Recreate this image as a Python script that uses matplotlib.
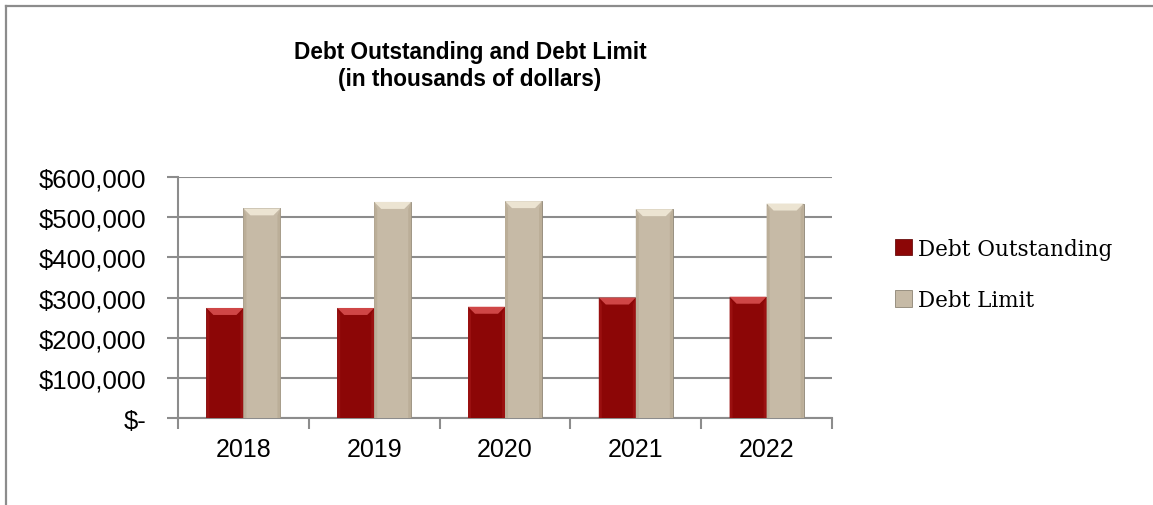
import numpy as np
import matplotlib
matplotlib.use("Agg")
import matplotlib.pyplot as plt
from matplotlib.patches import Polygon
from matplotlib.lines import Line2D
from matplotlib.transforms import IdentityTransform
from matplotlib.ticker import FuncFormatter, FixedLocator

years = ["2018", "2019", "2020", "2021", "2022"]
debt_outstanding = [274000, 274000, 277000, 300000, 302000]
debt_limit = [522000, 538000, 540000, 520000, 534000]
series_names = ["Debt Outstanding", "Debt Limit"]

red = "#8c0606"
red_top = "#cf4646"
red_side = "#9a1010"
beige = "#c6baa6"
beige_top = "#ece4d2"
beige_side = "#bbae98"
grid_gray = "#8c8c8c"

plt.rcParams['font.family'] = ['Liberation Sans', 'DejaVu Sans']

fig = plt.figure(figsize=(11.53, 5.06), dpi=100)
ax = fig.add_axes([0.1544, 0.1719, 0.5672, 0.4763])

x = np.arange(len(years))
w = 0.283
b1 = ax.bar(x - w/2, debt_outstanding, w, color=red, edgecolor="#6a1010", linewidth=0.6, zorder=3)
b2 = ax.bar(x + w/2, debt_limit, w, color=beige, edgecolor="#8d8474", linewidth=0.6, zorder=3)

ax.set_xlim(-0.5, len(years) - 0.5)
ax.set_ylim(0, 600000)
ax.set_yticks(np.arange(0, 600001, 100000))

def money(v, pos):
    if v == 0:
        return "$-"
    return "${:,.0f}".format(v)

ax.yaxis.set_major_formatter(FuncFormatter(money))
ax.yaxis.grid(True, color=grid_gray, linewidth=1.5, zorder=0)
ax.set_axisbelow(True)

ax.xaxis.set_major_locator(FixedLocator(np.arange(-0.5, len(years), 1.0)))
ax.xaxis.set_minor_locator(FixedLocator(x))
ax.xaxis.set_major_formatter(FuncFormatter(lambda v, p: ""))
ax.set_xticklabels(years, minor=True)
ax.tick_params(axis="x", which="major", direction="out", length=8, width=1.5, color=grid_gray)
ax.tick_params(axis="x", which="minor", length=0, pad=14, labelsize=18)
ax.tick_params(axis="y", direction="out", length=8, width=1.5, color=grid_gray, labelsize=18.5, pad=15)

for s in ["top", "right"]:
    ax.spines[s].set_visible(False)
for s in ["left", "bottom"]:
    ax.spines[s].set_color(grid_gray)
    ax.spines[s].set_linewidth(1.5)

# bevel shading on each bar, computed from the bar patches
fig.canvas.draw()
def bevel(container, top_col, side_col):
    for r in container:
        (x0, y0), (x1, y1) = ax.transData.transform([(r.get_x(), 0), (r.get_x() + r.get_width(), r.get_height())])
        d = 7
        s = 3
        ax.add_patch(Polygon([(x0, y1), (x1, y1), (x1 - d, y1 - d), (x0 + d, y1 - d)],
                             closed=True, transform=IdentityTransform(), facecolor=top_col,
                             edgecolor="none", zorder=4, clip_on=False))
        ax.add_patch(Polygon([(x0, y0), (x0, y1), (x0 + s, y1 - d), (x0 + s, y0)],
                             closed=True, transform=IdentityTransform(), facecolor=side_col,
                             edgecolor="none", zorder=4, clip_on=False))
        ax.add_patch(Polygon([(x1, y0), (x1, y1), (x1 - s, y1 - d), (x1 - s, y0)],
                             closed=True, transform=IdentityTransform(), facecolor=side_col,
                             edgecolor="none", zorder=4, clip_on=False))

bevel(b1, red_top, red_side)
bevel(b2, beige_top, beige_side)

fig.text(0.4076, 0.869, "Debt Outstanding and Debt Limit\n(in thousands of dollars)",
         ha="center", va="center", fontsize=16.3, fontweight="bold", linespacing=1.2)

leg = fig.legend([b1, b2], series_names, loc="center left", bbox_to_anchor=(0.759, 0.456),
                 frameon=False, prop={"family": "DejaVu Serif", "size": 15.5},
                 handlelength=0.8, handleheight=0.8, handletextpad=0.3, labelspacing=1.35)

# outer border (left and top only)
fig.add_artist(Line2D([6/1153, 6/1153], [0, 1 - 7/506], color=grid_gray, linewidth=1.6))
fig.add_artist(Line2D([6/1153, 1], [1 - 7/506, 1 - 7/506], color=grid_gray, linewidth=1.6))

fig.savefig("out.png", dpi=100)
